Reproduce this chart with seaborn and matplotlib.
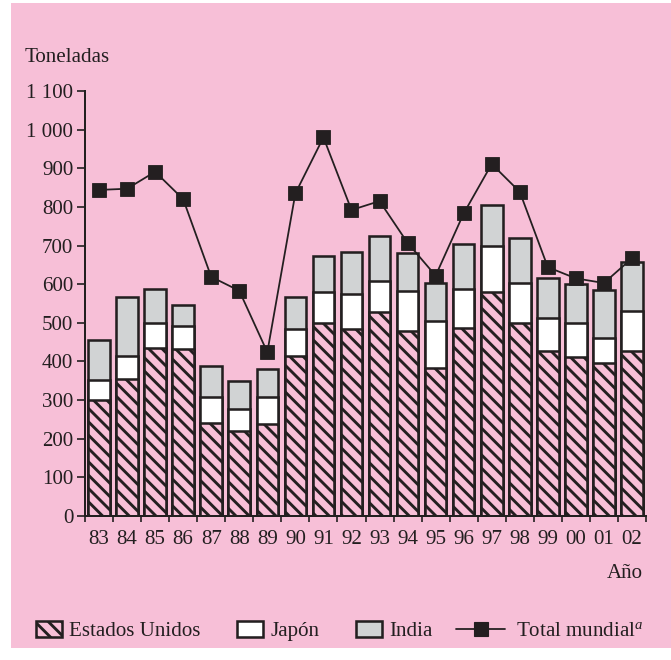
import numpy as np
import matplotlib
matplotlib.use("Agg")
import matplotlib.pyplot as plt
import seaborn as sns
from matplotlib.patches import Patch, Rectangle
from matplotlib.lines import Line2D
from matplotlib.ticker import FuncFormatter, FixedLocator

# Datos (toneladas)
anios = ["83", "84", "85", "86", "87", "88", "89", "90", "91", "92",
         "93", "94", "95", "96", "97", "98", "99", "00", "01", "02"]
estados_unidos = [300, 355, 436, 432, 242, 220, 238, 415, 500, 483,
                  527, 480, 383, 487, 580, 499, 427, 412, 397, 427]
japon = [52, 60, 64, 60, 67, 57, 71, 69, 80, 91,
         81, 103, 121, 101, 120, 103, 85, 87, 63, 104]
india = [103, 153, 88, 53, 79, 72, 71, 84, 93, 110,
         117, 97, 100, 115, 104, 118, 104, 101, 125, 126]
total_mundial = [844, 847, 891, 820, 619, 583, 424, 835, 980, 792,
                 815, 707, 622, 783, 911, 839, 644, 615, 603, 667]

# Colores
ROSA = "#F7BFD7"
GRIS = "#D1D3D4"
OSCURO = "#231F20"

sns.set_theme(style="ticks")
plt.rcParams["font.family"] = ["Liberation Serif", "DejaVu Serif"]
plt.rcParams["mathtext.fontset"] = "custom"
plt.rcParams["mathtext.rm"] = "Liberation Serif"
plt.rcParams["mathtext.it"] = "Liberation Serif:italic"
plt.rcParams["hatch.linewidth"] = 2.6
plt.rcParams["hatch.color"] = OSCURO
plt.rcParams["text.color"] = OSCURO

DPI = 80
FS = 18.9
LW = 2.3

fig = plt.figure(figsize=(671 / DPI, 660 / DPI), dpi=DPI, facecolor="white")
# Fondo rosa
fig.patches.append(Rectangle((11 / 671, 12 / 660), 1 - 11 / 671, 1 - 15 / 660,
                             transform=fig.transFigure, facecolor=ROSA,
                             edgecolor="none", zorder=-5))

ax = fig.add_axes([85 / 671, 144 / 660, 561 / 671, 425 / 660])
ax.patch.set_visible(False)

us = np.array(estados_unidos)
jp = us + np.array(japon)
ind = jp + np.array(india)

# Barras apiladas (de arriba hacia abajo)
sns.barplot(x=anios, y=ind, order=anios, color=GRIS, saturation=1,
            edgecolor=OSCURO, linewidth=LW, width=0.77, errorbar=None, ax=ax)
sns.barplot(x=anios, y=jp, order=anios, color="white", saturation=1,
            edgecolor=OSCURO, linewidth=LW, width=0.77, errorbar=None, ax=ax)
sns.barplot(x=anios, y=us, order=anios, color=ROSA, saturation=1,
            edgecolor=OSCURO, linewidth=LW, width=0.77, errorbar=None,
            hatch="\\\\", ax=ax)

# Total mundial
sns.lineplot(x=np.arange(len(anios)), y=total_mundial, color=OSCURO,
             linewidth=1.6, marker="s", markersize=12.5,
             markeredgecolor=OSCURO, markerfacecolor=OSCURO, ax=ax, zorder=5)

ax.set_xlim(-0.5, len(anios) - 0.5)
ax.set_ylim(0, 1100)
ax.set_xlabel("")
ax.set_ylabel("")
sns.despine(ax=ax)
for s in ["left", "bottom"]:
    ax.spines[s].set_linewidth(1.8)
    ax.spines[s].set_color(OSCURO)

# Eje x: marcas en los límites de las barras, etiquetas centradas
ax.xaxis.set_major_locator(FixedLocator(np.arange(-0.5, len(anios), 1.0)))
ax.xaxis.set_minor_locator(FixedLocator(np.arange(len(anios))))
ax.set_xticklabels([])
ax.set_xticklabels(anios, minor=True)
ax.tick_params(axis="x", which="major", length=5.5, width=1.5, color=OSCURO)
ax.tick_params(axis="x", which="minor", length=0, pad=13, labelsize=FS,
               labelcolor=OSCURO)

ax.set_yticks(np.arange(0, 1101, 100))
ax.yaxis.set_major_formatter(FuncFormatter(lambda v, p: f"{v:,.0f}".replace(",", " ")))
ax.tick_params(axis="y", length=7, width=1.5, pad=3.6, labelsize=FS,
               color=OSCURO, labelcolor=OSCURO)

fig.text(25 / 671, 1 - 57 / 660, "Toneladas", fontsize=FS, va="center", ha="left")
fig.text(643 / 671, 1 - 574 / 660, "Año", fontsize=FS, va="center", ha="right")

# Leyenda
h_barras = [
    Patch(facecolor=ROSA, edgecolor=OSCURO, hatch="\\\\", linewidth=LW, label="Estados Unidos"),
    Patch(facecolor="white", edgecolor=OSCURO, linewidth=LW, label="Japón"),
    Patch(facecolor=GRIS, edgecolor=OSCURO, linewidth=LW, label="India"),
]
leg1 = fig.legend(handles=h_barras, loc="center left",
                  bbox_to_anchor=(36 / 671, 1 - 631 / 660), ncol=3,
                  frameon=False, fontsize=FS, handlelength=1.25,
                  handleheight=0.8, handletextpad=0.32, columnspacing=1.75,
                  borderpad=0, borderaxespad=0)
h_linea = [Line2D([], [], color=OSCURO, linewidth=1.6, marker="s",
                  markersize=12.5, label="Total mundial$^{a}$")]
fig.legend(handles=h_linea, loc="center left",
           bbox_to_anchor=(456 / 671, 1 - 631 / 660), frameon=False,
           fontsize=FS, handlelength=2.35, handletextpad=0.5,
           borderpad=0, borderaxespad=0)

fig.savefig("out.png", dpi=DPI, facecolor="white")
